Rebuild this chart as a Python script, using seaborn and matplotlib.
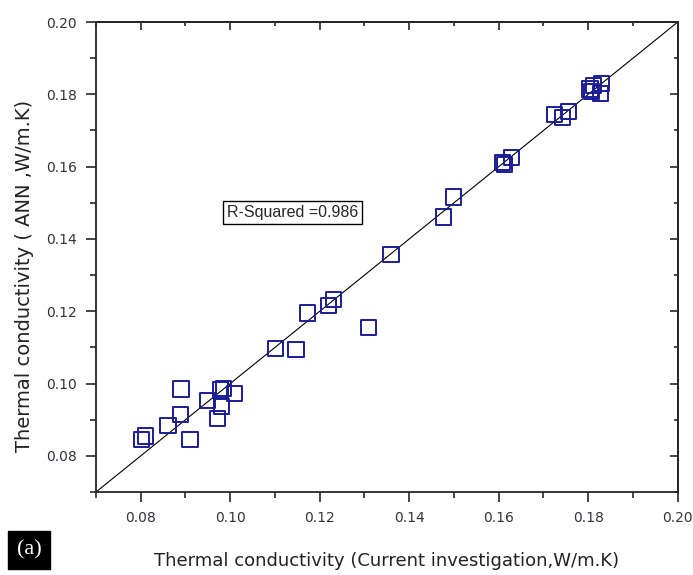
import numpy as np
import matplotlib
matplotlib.use("Agg")
import matplotlib.pyplot as plt
import seaborn as sns
import pandas as pd

# measured (current investigation) vs predicted (ANN), W/m.K
measured = [0.0801, 0.0811, 0.0861, 0.0890, 0.0889, 0.0910, 0.0950, 0.0971,
            0.0981, 0.0978, 0.0985, 0.1010, 0.1101, 0.1147, 0.1172, 0.1219,
            0.1230, 0.1309, 0.1359, 0.1477, 0.1499, 0.1608, 0.1613, 0.1629,
            0.1724, 0.1742, 0.1756, 0.1804, 0.1808, 0.1812, 0.1828, 0.1830]
predicted = [0.0846, 0.0855, 0.0883, 0.0985, 0.0915, 0.0846, 0.0954, 0.0904,
             0.0936, 0.0982, 0.0986, 0.0973, 0.1097, 0.1094, 0.1195, 0.1215,
             0.1233, 0.1155, 0.1357, 0.1461, 0.1516, 0.1612, 0.1605, 0.1626,
             0.1744, 0.1735, 0.1753, 0.1815, 0.1808, 0.1824, 0.1803, 0.1829]
r_squared = 0.986

df = pd.DataFrame({"measured": measured, "predicted": predicted})

sns.set_style("ticks")
plt.rcParams['font.family'] = ['DejaVu Sans']

fig = plt.figure(figsize=(6.93, 5.75), dpi=100)
ax = fig.add_axes([0.1385, 0.1443, 0.8395, 0.8174])

lims = (0.07, 0.20)
ax.plot(lims, lims, color="black", lw=0.8, zorder=1)
sns.scatterplot(data=df, x="measured", y="predicted", ax=ax, marker="s", s=120,
                facecolor="none", edgecolor="#1c1c96", linewidth=1.4, zorder=2)

ax.set_xlim(lims)
ax.set_ylim(lims)
ticks = np.arange(0.08, 0.2001, 0.02)
ax.set_xticks(ticks)
ax.set_yticks(ticks)
ax.set_xticklabels([f"{t:.2f}" for t in ticks])
ax.set_yticklabels([f"{t:.2f}" for t in ticks])
ax.xaxis.set_minor_locator(matplotlib.ticker.MultipleLocator(0.01))
ax.yaxis.set_minor_locator(matplotlib.ticker.MultipleLocator(0.01))
ax.tick_params(which="both", direction="out", labelsize=10, labelcolor="#333340",
               width=1.2, top=False, right=False)
ax.tick_params(which="major", length=7, pad=7)
ax.tick_params(which="minor", length=4)

# inward ticks on the opposite axes
sec_x = ax.secondary_xaxis("top")
sec_x.set_xticks(ticks)
sec_x.xaxis.set_minor_locator(matplotlib.ticker.MultipleLocator(0.01))
sec_x.tick_params(which="both", direction="in", labeltop=False, width=1.2)
sec_x.tick_params(which="major", length=6)
sec_x.tick_params(which="minor", length=3)
sec_y = ax.secondary_yaxis("right")
sec_y.set_yticks(ticks)
sec_y.yaxis.set_minor_locator(matplotlib.ticker.MultipleLocator(0.01))
sec_y.tick_params(which="both", direction="in", labelright=False, width=1.2)
sec_y.tick_params(which="major", length=6)
sec_y.tick_params(which="minor", length=3)

for sp in ax.spines.values():
    sp.set_linewidth(1.3)
for s in (sec_x, sec_y):
    for sp in s.spines.values():
        sp.set_linewidth(1.3)

ax.set_xlabel("Thermal conductivity (Current investigation,W/m.K)", fontsize=13,
              color="#222222")
ax.set_ylabel("Thermal conductivity ( ANN ,W/m.K)", fontsize=14, color="#222222")
ax.xaxis.set_label_coords(0.5, -0.128)
ax.yaxis.set_label_coords(-0.106, 0.46)

ax.text(0.0993, 0.14745, f"R-Squared ={r_squared:.3f}",
        fontsize=11.5, family=["Liberation Sans"], va="center", ha="left",
        bbox=dict(boxstyle="square,pad=0.25", facecolor="white", edgecolor="black", lw=1))

fig.text(0.042, 0.0435, "(a)", fontsize=16, family=["Liberation Serif"], color="white",
         va="center", ha="center",
         bbox=dict(boxstyle="square,pad=0.4", facecolor="black", edgecolor="black"))

fig.savefig("out.png", dpi=100)
